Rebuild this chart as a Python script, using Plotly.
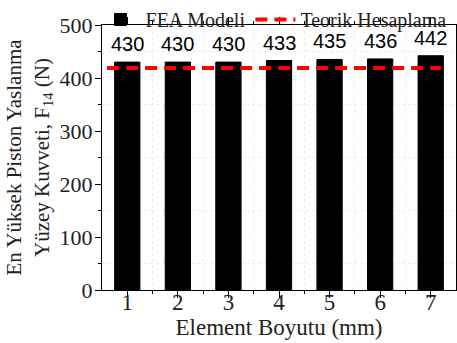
import plotly.graph_objects as go

elements = [1, 2, 3, 4, 5, 6, 7]
fea_values = [430, 430, 430, 433, 435, 436, 442]
teorik_x = [0.6, 7.2]
teorik_values = [419, 419]
x_ticks = [1, 2, 3, 4, 5, 6, 7]
y_ticks = [0, 100, 200, 300, 400, 500]

serif = "Liberation Serif"
fig = go.Figure()
fig.add_trace(go.Bar(x=elements, y=fea_values, name="FEA Modeli", width=0.5,
                     marker=dict(color="black", line=dict(color="black", width=1))))
fig.add_trace(go.Scatter(x=teorik_x, y=teorik_values, mode="lines", name="Teorik Hesaplama",
                         line=dict(color="#ff0000", width=4, dash="12px,7px")))
for xv, yv in zip(elements, fea_values):
    fig.add_annotation(x=xv, y=yv, text=str(yv), showarrow=False, yanchor="bottom", yshift=5,
                       font=dict(family="Liberation Sans", size=20, color="black"))

fig.update_layout(
    width=457, height=343,
    margin=dict(l=102, r=1, t=25, b=53, autoexpand=False),
    paper_bgcolor="white", plot_bgcolor="white",
    showlegend=True,
    legend=dict(orientation="h", x=0.209, xref="container", y=1.0, yref="container",
                xanchor="left", yanchor="top",
                font=dict(family=serif, size=20, color="#222"), bgcolor="rgba(0,0,0,0)",
                itemwidth=40, tracegroupgap=0),
    bargap=0.5,
)
fig.update_xaxes(
    range=[0.5, 7.5], tickvals=x_ticks, ticktext=[str(t) for t in x_ticks],
    showline=True, linecolor="black", linewidth=1, mirror="allticks",
    ticks="outside", ticklen=7, tickcolor="black", showgrid=False, zeroline=False,
    tickfont=dict(family=serif, size=23, color="#222"), ticklabelstandoff=-16,
    minor=dict(tickvals=[1.5, 2.5, 3.5, 4.5, 5.5, 6.5], ticks="outside", ticklen=3,
               tickcolor="black", showgrid=True, gridcolor="#ececec", griddash="dot", gridwidth=1),
    title=dict(text="Element Boyutu (mm)", font=dict(family=serif, size=23, color="#222"), standoff=0),
)
fig.update_yaxes(
    range=[0, 500], tickvals=y_ticks,
    showline=True, linecolor="black", linewidth=1, mirror="allticks",
    ticks="outside", ticklen=6, tickcolor="black", showgrid=False, zeroline=False,
    tickfont=dict(family=serif, size=22, color="#222"), ticklabelstandoff=-2,
    minor=dict(tickvals=[50, 150, 250, 350, 450], ticks="outside", ticklen=3,
               tickcolor="black", showgrid=True, gridcolor="#ececec", griddash="dot", gridwidth=1),
    title=dict(text="En Yüksek Piston Yaslanma<br>Yüzey Kuvveti, F<sub>14</sub> (N)",
               font=dict(family=serif, size=21, color="#222"), standoff=4),
)
fig.write_html("out.html", config={"displayModeBar": False},
               post_script="document.body.style.margin='0';document.body.style.overflow='hidden';")
